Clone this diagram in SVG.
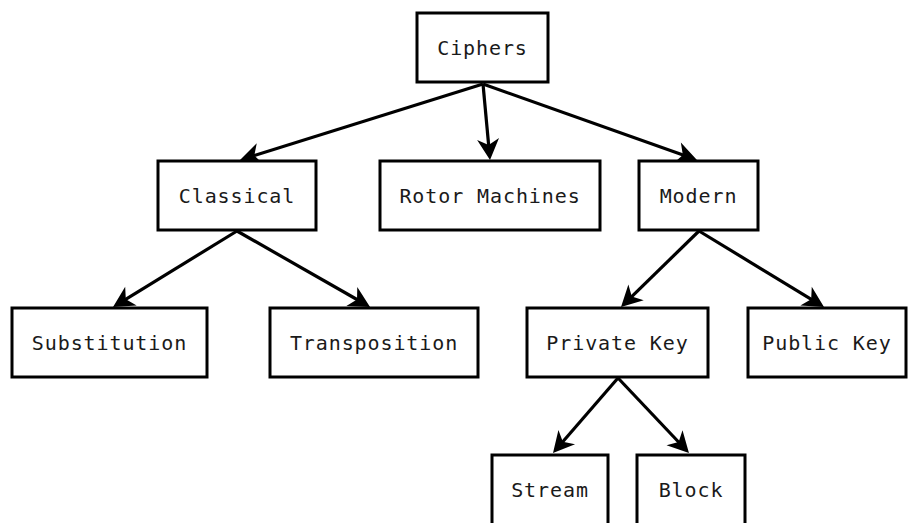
<svg xmlns="http://www.w3.org/2000/svg" width="912" height="523" viewBox="0 0 912 523">
  <style>
    .box { fill: #ffffff; stroke: #000000; stroke-width: 3; }
    .label { font-family: "DejaVu Sans Mono", "Liberation Mono", monospace; font-size: 20px; letter-spacing: 0.9px; fill: #1a1a1a; text-anchor: middle; }
    .edge { fill: none; stroke: #000000; stroke-width: 3.2; marker-end: url(#arrow); }
  </style>
  <defs>
    <marker id="arrow" markerUnits="userSpaceOnUse" markerWidth="28" markerHeight="28" refX="0" refY="0" orient="auto" overflow="visible">
      <path d="M11,0 L-10,-11 L-4,0 L-10,11 Z" fill="#000000"/>
    </marker>
  </defs>
  <rect width="912" height="523" fill="#ffffff"/>

  <g id="connectors">
    <line class="edge" x1="483" y1="84" x2="250.5" y2="156.7"/>
    <line class="edge" x1="483" y1="84" x2="489" y2="149"/>
    <line class="edge" x1="483" y1="84" x2="686.6" y2="156.3"/>
    <line class="edge" x1="237" y1="231" x2="122.4" y2="301.3"/>
    <line class="edge" x1="237" y1="231" x2="360.5" y2="301.5"/>
    <line class="edge" x1="699" y1="231" x2="628.9" y2="299.3"/>
    <line class="edge" x1="699" y1="231" x2="814.6" y2="301.3"/>
    <line class="edge" x1="618" y1="378" x2="560.2" y2="444.7"/>
    <line class="edge" x1="618" y1="378" x2="681.4" y2="445"/>
  </g>

  <g id="ciphers">
    <rect class="box" x="417" y="13" width="131" height="69"/>
    <text class="label" x="482.5" y="54.5">Ciphers</text>
  </g>
  <g id="classical">
    <rect class="box" x="158" y="161" width="158" height="69"/>
    <text class="label" x="237" y="202.5">Classical</text>
  </g>
  <g id="rotor-machines">
    <rect class="box" x="380" y="161" width="220" height="69"/>
    <text class="label" x="490" y="202.5">Rotor Machines</text>
  </g>
  <g id="modern">
    <rect class="box" x="639" y="161" width="119" height="69"/>
    <text class="label" x="698.5" y="202.5">Modern</text>
  </g>
  <g id="substitution">
    <rect class="box" x="12" y="308" width="195" height="69"/>
    <text class="label" x="109.5" y="349.5">Substitution</text>
  </g>
  <g id="transposition">
    <rect class="box" x="270" y="308" width="208" height="69"/>
    <text class="label" x="374" y="349.5">Transposition</text>
  </g>
  <g id="private-key">
    <rect class="box" x="527" y="308" width="181" height="69"/>
    <text class="label" x="617.5" y="349.5">Private Key</text>
  </g>
  <g id="public-key">
    <rect class="box" x="748" y="308" width="158" height="69"/>
    <text class="label" x="827" y="349.5">Public Key</text>
  </g>
  <g id="stream">
    <rect class="box" x="492" y="455" width="116" height="75"/>
    <text class="label" x="550" y="497">Stream</text>
  </g>
  <g id="block">
    <rect class="box" x="637" y="455" width="108" height="75"/>
    <text class="label" x="691" y="497">Block</text>
  </g>
</svg>
